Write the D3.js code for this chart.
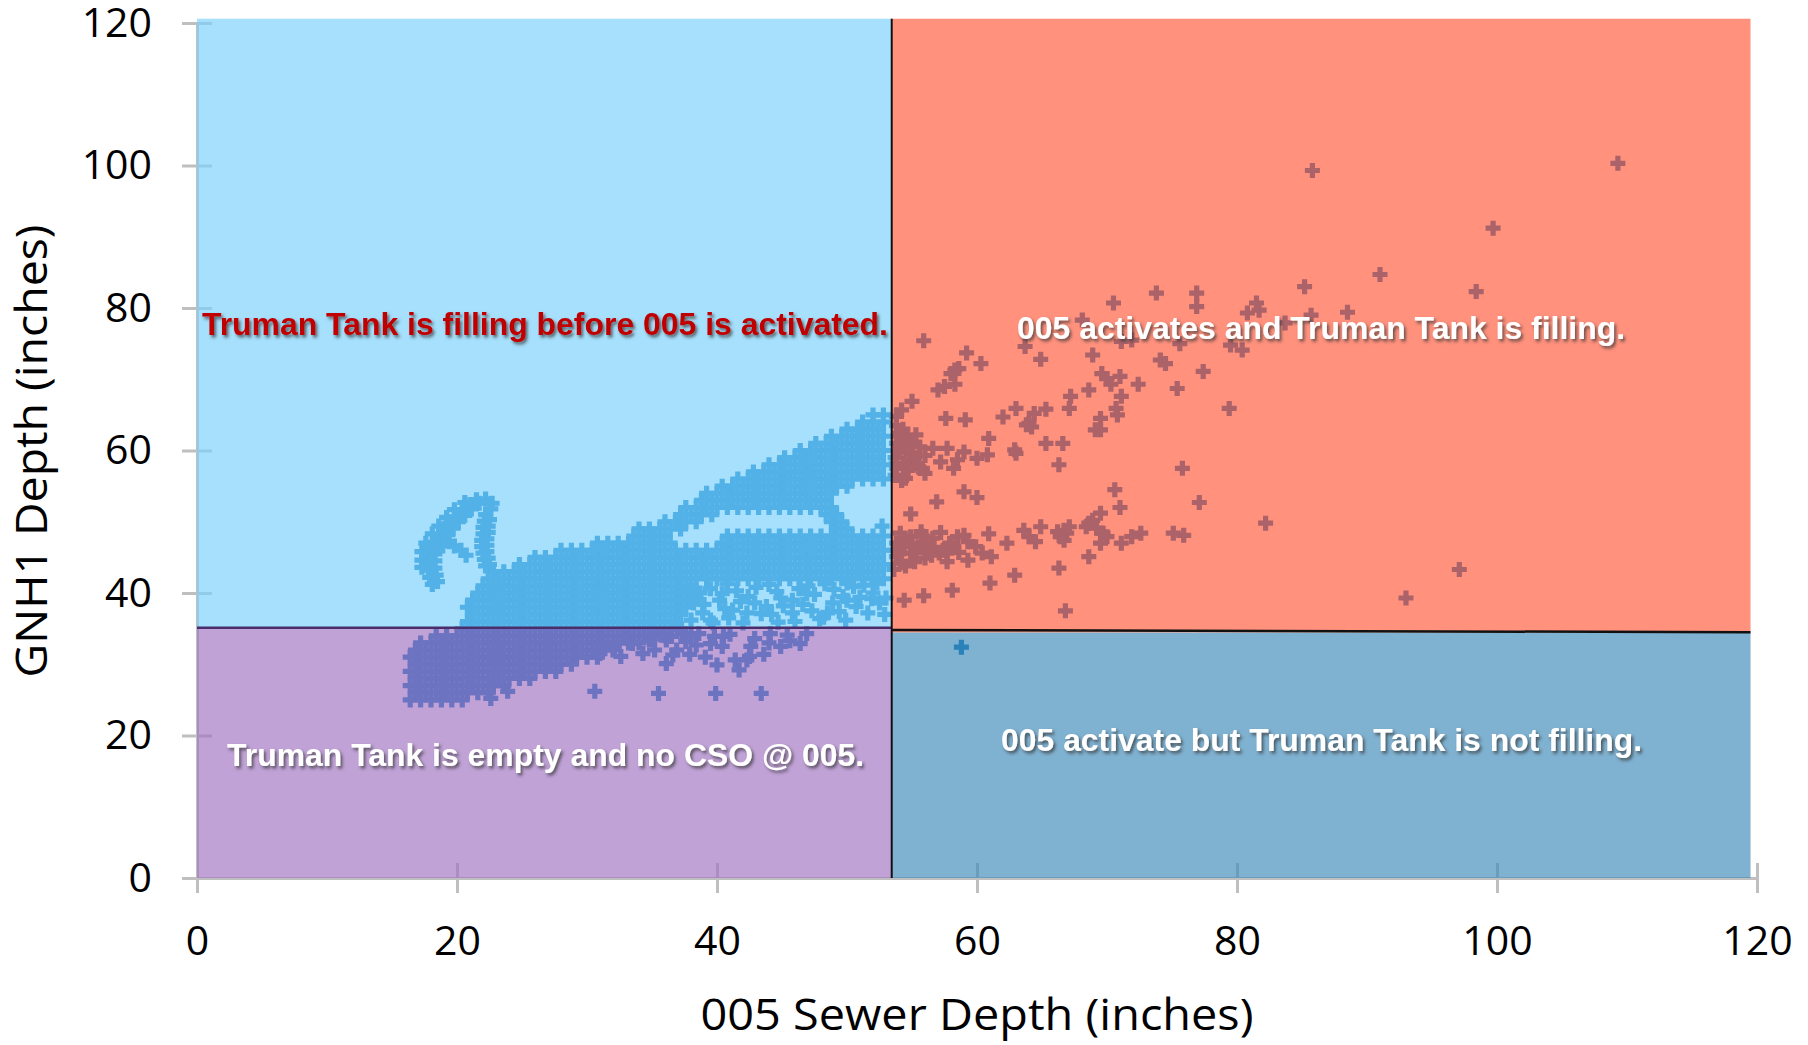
<!DOCTYPE html>
<html lang="en">
<head>
<meta charset="UTF-8">
<title>005 Sewer Depth vs GNH1 Depth</title>
<script src="https://d3js.org/d3.v7.min.js"></script>
<style>
  body { margin: 0; background: #ffffff; }
  svg { display: block; }
</style>
</head>
<body>
<div id="chart"></div>
<script>
// ---- axis ticks ----
const xTicks = [0, 20, 40, 60, 80, 100, 120];
const yTicks = [0, 20, 40, 60, 80, 100, 120];

// ---- zone thresholds (005 depth split, GNH1 depth split) ----
const sewerSplit = 53.44;
const tankSplitLeft = 35.13;
const tankSplitRight = [34.8, 34.5];
const zoneTop = 120.6;
const zoneRight = 119.5;

const zoneNames = ["fillingBefore", "activeFilling", "emptyNoCSO", "activeNotFilling"];
const zoneLabels = [
  "Truman Tank is filling before 005 is activated.",
  "005 activates and Truman Tank is filling.",
  "Truman Tank is empty and no CSO @ 005.",
  "005 activate but Truman Tank is not filling."
];

// ---- dense part of the cloud, read row by row: [GNH1 depth, [005 depths]] ----
const blobRows = [
  [25, [16.4,17.2,18.0,18.8,19.6,20.4]],
  [26, [16.8,17.6,18.4,19.2,20.0,20.8,21.6,22.4]],
  [27, [16.4,17.2,18.0,18.8,19.6,20.4,21.2,22.0,22.8,23.6]],
  [28, [16.8,17.6,18.4,19.2,20.0,20.8,21.6,22.4,23.2,24.0,24.8,25.6]],
  [29, [16.4,17.2,18.0,18.8,19.6,20.4,21.2,22.0,22.8,23.6,24.4,25.2,26.0,26.8,27.6]],
  [30, [16.8,17.6,18.4,19.2,20.0,20.8,21.6,22.4,23.2,24.0,24.8,25.6,26.4,27.2,28.0,28.8]],
  [31, [16.4,17.2,18.0,18.8,19.6,20.4,21.2,22.0,22.8,23.6,24.4,25.2,26.0,26.8,27.6,28.4,29.2,30.0,30.8]],
  [32, [16.8,17.6,18.4,19.2,20.0,20.8,21.6,22.4,23.2,24.0,24.8,25.6,26.4,27.2,28.0,28.8,29.6,30.4,31.2,32.0]],
  [33, [17.2,18.0,18.8,19.6,20.4,21.2,22.0,22.8,23.6,24.4,25.2,26.0,26.8,27.6,28.4,29.2,30.0,30.8,31.6,32.4,33.2,34.0]],
  [34, [18.4,19.2,20.0,20.8,21.6,22.4,23.2,24.0,24.8,25.6,26.4,27.2,28.0,28.8,29.6,30.4,31.2,32.0,32.8,33.6,34.4,35.2,36.0]]
];

const bandRows = [
  [35, [20.4,21.2,22.0,22.8,23.6,24.4,25.2,26.0,26.8,27.6,28.4,29.2,30.0,30.8,31.6,32.4,33.2,34.0,34.8,35.6,36.4,37.2]],
  [36, [20.8,21.6,22.4,23.2,24.0,24.8,25.6,26.4,27.2,28.0,28.8,29.6,30.4,31.2,32.0,32.8,33.6,34.4,35.2,36.0,36.8]],
  [37, [21.2,22.0,22.8,23.6,24.4,25.2,26.0,26.8,27.6,28.4,29.2,30.0,30.8,31.6,32.4,33.2,34.0,34.8,35.6,36.4,37.2]],
  [38, [20.8,21.6,22.4,23.2,24.0,24.8,25.6,26.4,27.2,28.0,28.8,29.6,30.4,31.2,32.0,32.8,33.6,34.4,35.2,36.0,36.8,37.6]],
  [39, [21.2,22.0,22.8,23.6,24.4,25.2,26.0,26.8,27.6,28.4,29.2,30.0,30.8,31.6,32.4,33.2,34.0,34.8,35.6,36.4,37.2,38.0]],
  [40, [21.6,22.4,23.2,24.0,24.8,25.6,26.4,27.2,28.0,28.8,29.6,30.4,31.2,32.0,32.8,33.6,34.4,35.2,36.0,36.8,37.6,38.4]],
  [41, [22.0,22.8,23.6,24.4,25.2,26.0,26.8,27.6,28.4,29.2,30.0,30.8,31.6,32.4,33.2,34.0,34.8,35.6,36.4,37.2,38.0]],
  [42, [22.4,23.2,24.0,24.8,25.6,26.4,27.2,28.0,28.8,29.6,30.4,31.2,32.0,32.8,33.6,34.4,35.2,36.0,36.8,37.6,38.4,39.2,40.0,40.8,41.6,42.4,43.2,44.0,44.8,45.6,46.4,47.2,48.0,48.8,49.6,50.4,51.2,52.0,52.8]],
  [43, [22.8,23.6,24.4,25.2,26.0,26.8,27.6,28.4,29.2,30.0,30.8,31.6,32.4,33.2,34.0,34.8,35.6,36.4,37.2,38.0,38.8,39.6,40.4,41.2,42.0,42.8,43.6,44.4,45.2,46.0,46.8,47.6,48.4,49.2,50.0,50.8,51.6,52.4]],
  [44, [24.8,25.6,26.4,27.2,28.0,28.8,29.6,30.4,31.2,32.0,32.8,33.6,34.4,35.2,36.0,36.8,37.6,38.4,39.2,40.0,40.8,41.6,42.4,43.2,44.0,44.8,45.6,46.4,47.2,48.0,48.8,49.6,50.4,51.2,52.0,52.8]],
  [45, [26.0,26.8,27.6,28.4,29.2,30.0,30.8,31.6,32.4,33.2,34.0,34.8,35.6,36.4,37.2,38.0,38.8,39.6,40.4,41.2,42.0,42.8,43.6,44.4,45.2,46.0,46.8,47.6,48.4,49.2,50.0,50.8,51.6,52.4]],
  [46, [28.0,28.8,29.6,30.4,31.2,32.0,32.8,33.6,34.4,35.2,36.0,36.8,37.6,38.4,39.2,40.0,40.8,41.6,42.4,43.2,44.0,44.8,45.6,46.4,47.2,48.0,48.8,49.6,50.4,51.2,52.0,52.8]]
];

const upperRows = [
  [47, [30.8,31.6,32.4,33.2,34.0,34.8,35.6,36.4,40.4,41.2,42.0,42.8,43.6,44.4,45.2,46.0,46.8,47.6,48.4,49.2,50.0,50.8,51.6,52.4]],
  [48, [33.6,34.4,35.2,36.0,40.8,41.6,42.4,43.2,44.0,44.8,45.6,46.4,47.2,48.0,48.8,49.6,50.4,51.2,52.0,52.8]],
  [49, [34.0,34.8,35.6,36.4,37.2,49.2,50.0]],
  [50, [36.0,36.8,37.6,38.4,48.8,49.6]],
  [51, [37.2,38.0,38.8,39.6,48.4,49.2]],
  [52, [37.6,38.4,39.2,40.0,40.8,41.6,42.4,43.2,44.0,44.8,45.6,46.4,47.2,48.0,48.8]],
  [53, [38.8,39.6,40.4,41.2,42.0,42.8,43.6,44.4,45.2,46.0,46.8,47.6,48.4]],
  [54, [39.2,40.0,40.8,41.6,42.4,43.2,44.0,44.8,45.6,46.4,47.2,48.0,48.8]],
  [55, [40.4,41.2,42.0,42.8,43.6,44.4,45.2,46.0,46.8,47.6,48.4,49.2,50.0]],
  [56, [41.6,42.4,43.2,44.0,44.8,45.6,46.4,47.2,48.0,48.8,49.6,50.4,51.2,52.0,52.8]],
  [57, [42.8,43.6,44.4,45.2,46.0,46.8,47.6,48.4,49.2,50.0,50.8,51.6,52.4]],
  [58, [44.0,44.8,45.6,46.4,47.2,48.0,48.8,49.6,50.4,51.2,52.0,52.8]],
  [59, [45.2,46.0,46.8,47.6,48.4,49.2,50.0,50.8,51.6,52.4]],
  [60, [46.4,47.2,48.0,48.8,49.6,50.4,51.2,52.0,52.8]],
  [61, [47.6,48.4,49.2,50.0,50.8,51.6,52.4]],
  [62, [48.8,49.6,50.4,51.2,52.0,52.8]],
  [63, [50.0,50.8,51.6,52.4]],
  [64, [51.2,52.0,52.8]],
  [65, [52.0,52.8]]
];

// ---- hook at low 005 depth ----
const hookPts = [
  [18.1,41.2],[18.5,41.6],[17.9,42.2],[18.4,42.5],[17.8,43.2],[18.3,43.5],[17.7,44.2],[18.3,44.5],
  [17.7,45.2],[18.3,45.5],[17.8,46.2],[18.5,46.4],[18.2,47.1],[18.8,47.3],[18.6,48.0],[19.3,48.2],
  [19.0,48.9],[19.7,49.1],[19.4,49.8],[20.1,50.0],[19.9,50.7],[20.6,50.9],[20.4,51.6],[21.1,51.8],
  [21.0,52.4],[21.7,52.6],[21.5,53.1],[22.2,53.2],[22.7,52.6],[22.6,51.8],
  [17.3,43.6],[17.3,44.6],[17.3,45.8],[17.6,47.0],[18.1,48.3],[18.6,49.4],[19.2,50.6],[19.8,51.7],[20.6,52.7],
  [18.9,46.6],[19.4,47.2],[19.8,46.6],[20.3,46.0],[20.7,45.3],
  [22.2,51.0],[22.5,50.3],[22.1,50.1],[22.4,49.4],[22.0,49.2],[22.4,48.5],[22.0,48.3],[22.3,47.6],
  [21.9,47.4],[22.3,46.7],[21.9,46.5],[22.3,45.8],[22.0,45.6],[22.4,44.9],[22.1,44.7],[22.5,44.0],[22.2,43.8]
];

// ---- loose points under the band (zone 1) ----
const belowBandPts = [
  [37.8,40.4],[38.7,40.0],[39.5,40.6],[38.2,38.6],[38.9,37.2],[39.7,35.8],[39.5,36.2],[40.2,39.0],
  [40.4,39.9],[41.2,37.6],[41.5,40.3],[42.3,37.2],[42.4,39.5],[43.0,40.8],[43.4,37.1],[43.8,38.1],
  [44.6,40.2],[44.9,39.3],[45.8,37.2],[45.8,39.0],[46.3,40.6],[46.9,39.9],[47.5,39.8],[47.9,36.4],
  [48.2,36.6],[48.5,37.2],[49.0,40.5],[49.7,39.5],[50.0,39.0],[50.0,41.4],[50.5,40.9],[51.0,39.4],
  [52.0,40.0],[52.3,41.4],[52.5,38.6],[53.0,39.3],[52.7,49.4],[40.8,41.3],[44.0,41.2],[47.0,41.0],
  [48.3,41.3],[51.3,41.1],[36.9,35.6],[38.0,36.2],
  [38.4,39.2],[39.0,38.4],[40.6,37.8],[41.8,38.8],[42.9,38.6],[44.2,37.0],[45.1,38.2],[46.6,38.4],
  [47.3,37.5],[48.9,38.6],[49.4,37.4],[50.7,38.1],[51.6,37.2],[52.9,37.0],[44.7,35.9],[42.0,35.8],
  [46.0,36.0],[49.9,36.2],[40.9,36.5],[51.9,39.2]
];

// ---- loose points in zone 3 ----
const emptyZonePts = [
  [36.1,30.1],[36.1,33.4],[36.5,33.9],[37.3,34.3],[38.0,34.0],[38.4,32.7],[39.5,32.9],[39.8,33.9],
  [40.4,32.5],[40.5,33.9],[41.4,30.6],[41.7,29.2],[42.3,30.6],[42.5,31.1],[42.6,32.5],[44.1,34.3],
  [44.9,32.5],[46.4,32.9],[46.9,34.3],[32.1,32.5],[33.5,32.9],[32.6,31.1],[31.0,31.5],[34.3,31.5],
  [34.8,33.4],[36.9,32.0],[35.2,32.0],[30.6,26.2],[35.5,25.9],[39.9,25.9],[43.4,25.9],[22.6,25.2],
  [23.9,26.2],[41.0,34.2],[42.9,33.6],[45.4,34.1],[37.6,33.2],
  [37.9,31.4],[39.1,31.0],[40.0,29.9],[43.6,31.4],[45.6,33.3],[44.0,33.0],[38.6,34.3],[35.6,34.2],[36.6,31.3]
];

// ---- points once 005 is active ----
const activePts = [
  [55.0,66.9],[57.0,68.5],[57.5,69.0],[58.3,69.3],[57.6,64.5],[59.1,64.3],[62.0,64.7],[63.0,65.9],
  [64.4,65.2],[65.3,65.8],[64.0,63.8],[64.2,63.3],[63.8,63.6],[67.2,67.6],[67.1,65.9],[68.6,68.5],
  [70.3,69.3],[71.1,67.6],[70.7,65.9],[70.8,65.0],[69.5,64.5],[69.1,62.9],[69.5,62.9],[72.4,69.3],
  [75.4,68.7],[79.4,65.9],[54.1,62.4],[54.6,61.9],[55.0,61.0],[54.1,60.5],[56.6,60.3],[57.7,60.3],
  [59.0,59.8],[60.9,61.7],[60.8,59.4],[60.0,58.9],[58.5,58.7],[57.2,58.4],[58.2,57.5],[56.0,56.8],
  [54.5,56.1],[54.4,58.2],[55.0,58.7],[55.5,57.7],[53.8,58.2],[62.9,60.1],[63.0,59.6],[65.3,61.0],
  [66.6,61.0],[66.3,58.0],[75.8,57.5],[70.6,54.5],[71.0,52.0],[77.1,52.7],[82.2,49.8],[59.0,54.2],
  [60.0,53.4],[56.9,52.8],[54.9,51.1],
  [54.1,48.4],[54.9,47.9],[55.7,48.6],[56.6,47.7],[54.4,46.5],[55.5,46.5],[56.3,46.0],[57.4,46.0],
  [53.8,45.1],[54.9,45.6],[56.0,44.9],[57.1,45.6],[58.2,46.5],[58.5,47.9],[59.0,48.1],[57.9,47.0],
  [54.1,44.2],[57.7,44.4],[59.3,44.6],[59.9,46.5],[60.4,45.6],[61.1,45.1],[60.9,48.3],[62.3,47.0],
  [63.6,48.8],[64.0,47.9],[64.5,47.2],[64.9,49.3],[66.2,48.6],[66.7,48.8],[66.4,47.9],[66.9,48.4],
  [67.1,49.3],[66.7,47.4],[68.4,49.3],[68.9,50.2],[69.5,51.2],[69.2,49.1],[69.7,48.4],[70.0,47.9],
  [69.5,47.0],[68.6,49.8],[71.1,47.0],[71.9,47.9],[72.6,48.4],[75.1,48.4],[75.9,48.1],[68.6,45.1],
  [66.3,43.5],[62.9,42.5],[61.0,41.4],[58.1,40.4],[55.9,39.6],[54.4,39.0],[66.8,37.5],[93.0,39.3],
  [53.8,63.5],[54.3,63.0],[53.9,62.0],[55.3,62.2],[53.8,61.0],[54.5,60.9],[55.6,60.5],[54.0,59.8],
  [54.9,59.6],[53.7,59.0],[55.2,59.0],[56.0,59.3],[53.8,57.5],[54.7,57.2],[55.8,57.5],[53.7,56.5],
  [54.2,55.8],[53.8,64.8],[54.2,65.7],[53.8,47.0],[54.3,47.3],[53.7,46.0],[54.0,45.5],[53.6,43.3],
  [54.5,43.8],[55.2,44.4],[55.3,45.7],[55.0,47.0],[56.0,47.0],[56.7,46.4],[56.5,45.3],[57.7,45.6],
  [58.6,45.7],[55.8,48.0],[57.2,48.5],[59.3,47.2],
  [55.9,75.4],[59.2,73.7],[60.3,72.2],[58.3,71.3],[58.6,71.5],[58.0,70.8],[63.7,74.6],[64.9,72.8],
  [68.9,73.4],[69.6,70.8],[70.0,70.1],[71.0,70.4],[70.5,80.7],[73.8,82.1],[76.9,82.1],[76.9,80.2],
  [74.1,72.7],[74.5,72.2],[75.6,75.0],[77.4,71.1],[80.8,79.3],[81.5,80.7],[81.7,79.7],[80.4,74.1],
  [79.5,74.8],[83.7,77.9],[85.2,83.0],[85.7,79.0],[88.5,79.4],[91.0,84.7],[68.1,78.3],[71.9,75.5],
  [71.1,75.3],[85.8,99.3],[109.3,100.3],[99.7,91.2],[98.4,82.3],[97.1,43.3],
  [58.8,32.4]
];

// ---- build the point list ----
const points = [];
[blobRows, bandRows, upperRows].forEach(rows =>
  rows.forEach(([gy, xs]) => xs.forEach(sx => points.push([sx, gy]))));
[hookPts, belowBandPts, emptyZonePts, activePts].forEach(list =>
  list.forEach(p => points.push(p)));

// ---- layout ----
const W = 1808, H = 1045;
const x = d3.scaleLinear().domain([0, 120]).range([197, 1757]);
const y = d3.scaleLinear().domain([0, 120]).range([878, 23]);

const zoneColor = {
  fillingBefore: "rgb(122,209,250)",
  activeFilling: "rgb(255,91,61)",
  emptyNoCSO: "rgb(161,116,194)",
  activeNotFilling: "rgb(64,139,185)"
};

const zones = [
  { name: zoneNames[0], x0: 0, x1: sewerSplit, y0: tankSplitLeft, y1: zoneTop },
  { name: zoneNames[1], x0: sewerSplit, x1: zoneRight, y0: tankSplitRight[1] - 0.05, y1: zoneTop },
  { name: zoneNames[2], x0: 0, x1: sewerSplit, y0: 0, y1: tankSplitLeft },
  { name: zoneNames[3], x0: sewerSplit, x1: zoneRight, y0: 0, y1: tankSplitRight[1] - 0.05 }
];

// label anchors (data units) and widths (px)
const labelPos = [
  { x: 0.38, y: 76.2, len: 686, fill: "#C00000" },
  { x: 63.08, y: 75.65, len: 608, fill: "#FFFFFF" },
  { x: 2.31, y: 15.72, len: 637, fill: "#FFFFFF" },
  { x: 61.85, y: 17.82, len: 641, fill: "#FFFFFF" }
];

const svg = d3.select("#chart").append("svg")
  .attr("width", W)
  .attr("height", H);

const defs = svg.append("defs");
const f = defs.append("filter").attr("id", "shadow")
  .attr("x", "-5%").attr("y", "-30%").attr("width", "110%").attr("height", "160%");
f.append("feDropShadow")
  .attr("dx", 2).attr("dy", 2.5).attr("stdDeviation", 1.4)
  .attr("flood-color", "#333").attr("flood-opacity", 0.7);

// axes
const axisFont = "'Open Sans', 'DejaVu Sans', sans-serif";

const gx = svg.append("g")
  .attr("transform", `translate(0,${y(0)})`)
  .call(d3.axisBottom(x).tickValues(xTicks).tickSizeInner(15).tickSizeOuter(0).tickPadding(33));
gx.attr("font-size", 41).attr("font-family", axisFont);
gx.select(".domain").attr("stroke", "#BFBFBF").attr("stroke-width", 3);
gx.selectAll(".tick line").attr("y1", -15).attr("y2", 15)
  .attr("stroke", "#BFBFBF").attr("stroke-width", 3);
gx.selectAll(".tick text").attr("fill", "#000");

const gyAxis = svg.append("g")
  .attr("transform", `translate(${x(0)},0)`)
  .call(d3.axisLeft(y).tickValues(yTicks).tickSizeInner(15).tickSizeOuter(0).tickPadding(30));
gyAxis.attr("font-size", 41).attr("font-family", axisFont);
gyAxis.select(".domain").attr("stroke", "#BFBFBF").attr("stroke-width", 3);
gyAxis.selectAll(".tick line").attr("x1", -15).attr("x2", 15)
  .attr("stroke", "#BFBFBF").attr("stroke-width", 3);
gyAxis.selectAll(".tick text").attr("fill", "#000");

// scatter (plus markers)
svg.append("g")
  .selectAll("path")
  .data(points)
  .join("path")
  .attr("transform", d => `translate(${x(d[0])},${y(d[1])})`)
  .attr("d", "M-7.5,0H7.5M0,-7.5V7.5")
  .attr("fill", "none")
  .attr("stroke", "#0070C0")
  .attr("stroke-width", 5.2);

// translucent zone overlays
svg.append("g")
  .selectAll("rect")
  .data(zones)
  .join("rect")
  .attr("x", d => x(d.x0))
  .attr("y", d => y(d.y1))
  .attr("width", d => x(d.x1) - x(d.x0))
  .attr("height", d => y(d.y0) - y(d.y1))
  .attr("fill", d => zoneColor[d.name])
  .attr("fill-opacity", 0.67);

// zone borders
svg.append("line")
  .attr("x1", x(0)).attr("x2", x(sewerSplit))
  .attr("y1", y(tankSplitLeft)).attr("y2", y(tankSplitLeft))
  .attr("stroke", "#4a2d6b").attr("stroke-width", 2.5);
svg.append("line")
  .attr("x1", x(sewerSplit)).attr("x2", x(zoneRight))
  .attr("y1", y(tankSplitRight[0])).attr("y2", y(tankSplitRight[1]))
  .attr("stroke", "#111").attr("stroke-width", 2.5);
svg.append("line")
  .attr("x1", x(sewerSplit)).attr("x2", x(sewerSplit))
  .attr("y1", y(zoneTop)).attr("y2", y(0))
  .attr("stroke", "#111").attr("stroke-width", 2);

// zone captions
svg.append("g")
  .selectAll("text")
  .data(zoneLabels)
  .join("text")
  .attr("x", (d, i) => x(labelPos[i].x))
  .attr("y", (d, i) => y(labelPos[i].y))
  .attr("textLength", (d, i) => labelPos[i].len)
  .attr("lengthAdjust", "spacingAndGlyphs")
  .attr("font-family", "'Liberation Sans', Arial, sans-serif")
  .attr("font-weight", "bold")
  .attr("font-size", 31.7)
  .attr("fill", (d, i) => labelPos[i].fill)
  .attr("filter", "url(#shadow)")
  .text(d => d);

// axis titles
svg.append("text")
  .attr("x", 977).attr("y", 1030)
  .attr("text-anchor", "middle")
  .attr("font-family", axisFont)
  .attr("font-size", 44)
  .attr("textLength", 553)
  .attr("lengthAdjust", "spacingAndGlyphs")
  .attr("fill", "#000")
  .text("005 Sewer Depth (inches)");

svg.append("text")
  .attr("transform", "translate(47,451) rotate(-90)")
  .attr("text-anchor", "middle")
  .attr("font-family", axisFont)
  .attr("font-size", 44)
  .attr("textLength", 453)
  .attr("lengthAdjust", "spacingAndGlyphs")
  .attr("fill", "#000")
  .text("GNH1 Depth (inches)");
</script>
</body>
</html>
